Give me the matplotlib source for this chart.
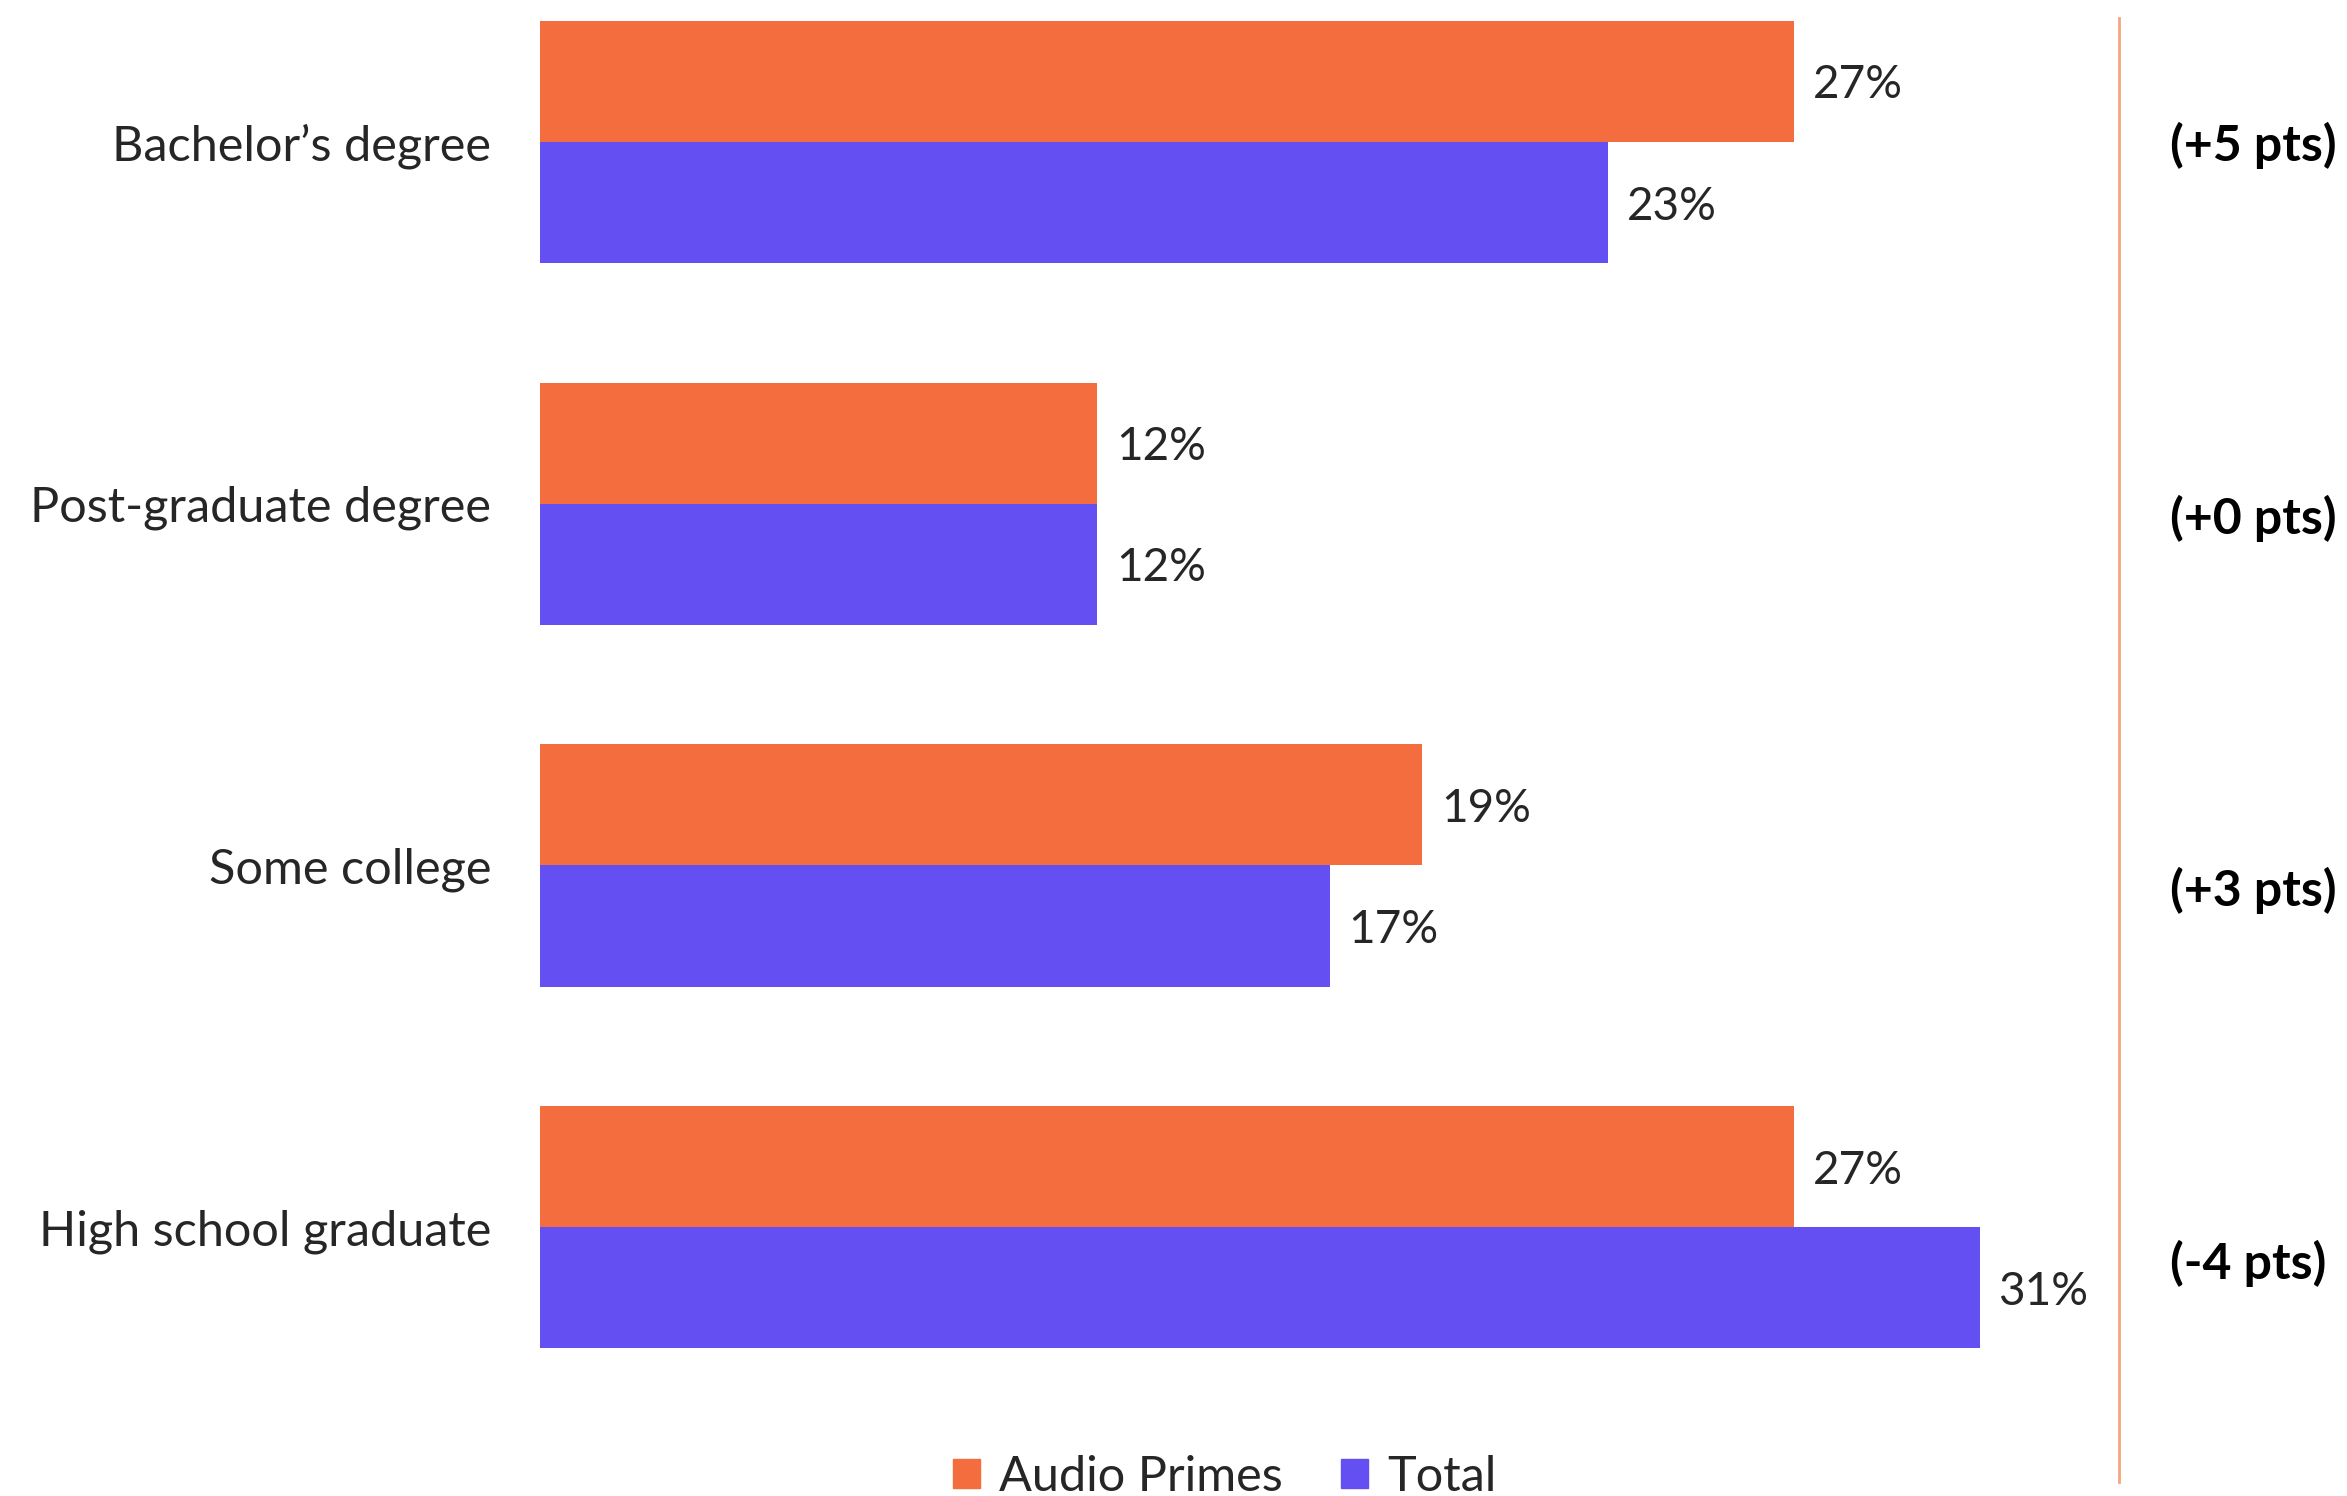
import matplotlib

matplotlib.use("Agg")
import matplotlib.pyplot as plt
import numpy as np
from matplotlib.patches import Patch

categories = ["Bachelor\u2019s degree", "Post-graduate degree", "Some college", "High school graduate"]
audio_primes = [27, 12, 19, 27]
total = [23, 12, 17, 31]
diff_labels = ["(+5 pts)", "(+0 pts)", "(+3 pts)", "(-4 pts)"]
series_names = ["Audio Primes", "Total"]

ORANGE = "#F36D3F"
PURPLE = "#644FF2"
TEXT = "#262626"

plt.rcParams["font.family"] = ["Lato", "DejaVu Sans"]

W, H, DPI = 2347, 1496, 100
fig = plt.figure(figsize=(W / DPI, H / DPI), dpi=DPI)
ax = fig.add_axes([540 / W, 0, (2119 - 540) / W, 1])

y = np.arange(len(categories))
bh = 0.335
ax.barh(y - bh / 2, audio_primes, height=bh, color=ORANGE)
ax.barh(y + bh / 2, total, height=bh, color=PURPLE)

for i in range(len(categories)):
    ax.text(audio_primes[i] + 0.4, y[i] - bh / 2, f"{audio_primes[i]}%", va="center_baseline",
            ha="left", fontsize=33, color=TEXT)
    ax.text(total[i] + 0.4, y[i] + bh / 2, f"{total[i]}%", va="center_baseline",
            ha="left", fontsize=33, color=TEXT)

# difference labels to the right of the divider line
diff_y = [0.01, 1.04, 2.07, 3.10]
for yy, lab in zip(diff_y, diff_labels):
    ax.text(35.09, yy, lab, va="center", ha="left", fontsize=36, fontweight="bold",
            color="black", clip_on=False)

ax.set_xlim(0, 34)
ax.set_ylim((H - 142) / 361.7, -142 / 361.7)
ax.axvline(34, ymin=14 / H, ymax=1 - 18 / H, color="#F4A582", linewidth=2, clip_on=False)

ax.set_yticks(y)
ax.set_yticklabels(categories, fontsize=35, color=TEXT)
ax.tick_params(axis="y", length=0, pad=35)
ax.set_xticks([])
for s in ax.spines.values():
    s.set_visible(False)

handles = [Patch(color=ORANGE), Patch(color=PURPLE)]
fig.legend(handles, series_names, loc="center", bbox_to_anchor=(0.522, 0.013), ncol=2,
           frameon=False, fontsize=35, handlelength=0.55, handleheight=0.55, handletextpad=0.4,
           columnspacing=1.2, labelcolor=TEXT)

fig.savefig("out.png", dpi=DPI)
plt.close(fig)
